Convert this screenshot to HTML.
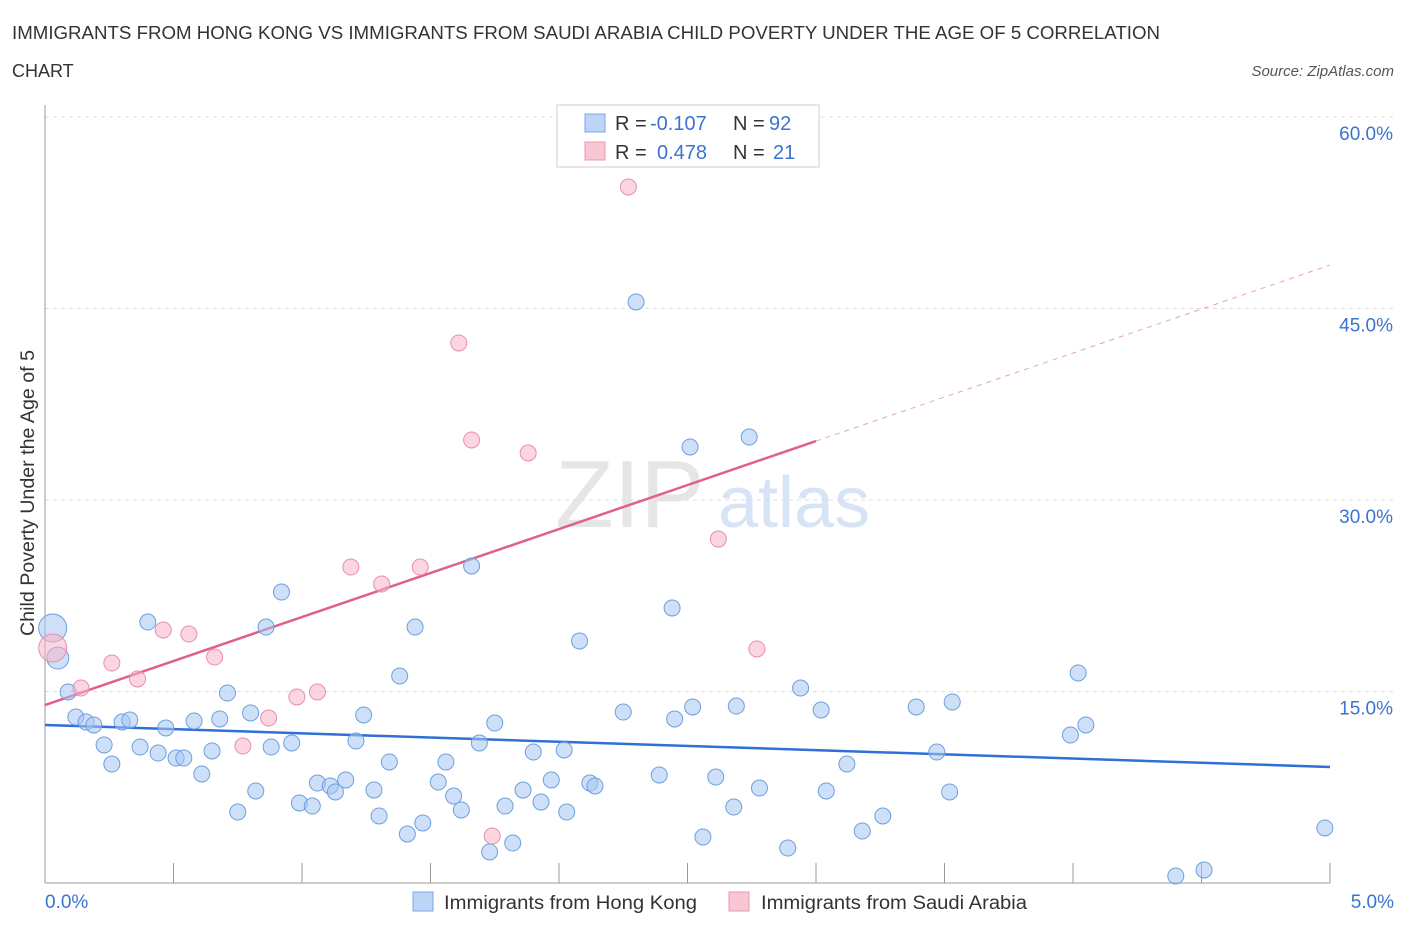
<!DOCTYPE html>
<html><head><meta charset="utf-8"><style>
body{margin:0;background:#fff;font-family:"Liberation Sans",sans-serif;}
svg text{font-family:"Liberation Sans",sans-serif;}
</style></head><body>
<svg id="chart" width="1406" height="930" xmlns="http://www.w3.org/2000/svg">
<text x="12" y="39" font-size="18" fill="#333" textLength="1148" lengthAdjust="spacingAndGlyphs">IMMIGRANTS FROM HONG KONG VS IMMIGRANTS FROM SAUDI ARABIA CHILD POVERTY UNDER THE AGE OF 5 CORRELATION</text>
<text x="12" y="77" font-size="18" fill="#333">CHART</text>
<text x="1394" y="76" font-size="15" fill="#555" text-anchor="end" font-style="italic">Source: ZipAtlas.com</text>
<text x="555" y="527" font-size="96" fill="#e6e6e6" font-family="Liberation Serif">ZIP</text>
<text x="718" y="527" font-size="72" fill="#d6e4f5">atlas</text>
<text transform="translate(34,493) rotate(-90)" font-size="19" fill="#333" text-anchor="middle" textLength="286" lengthAdjust="spacingAndGlyphs">Child Poverty Under the Age of 5</text>
<g id="grid"></g><g id="lines"></g><g id="pts"></g>
<g>
<rect x="557" y="105" width="262" height="62" fill="#fff" stroke="#ccc"/>
<rect x="585" y="114" width="20" height="18" fill="#bcd4f5" stroke="#7aa8e0"/>
<rect x="585" y="142" width="20" height="18" fill="#f9c6d3" stroke="#e89ab0"/>
<text x="615" y="130" font-size="20" fill="#333">R =</text>
<text x="650" y="130" font-size="20" fill="#3a73d1">-0.107</text>
<text x="733" y="130" font-size="20" fill="#333">N =</text>
<text x="769" y="130" font-size="20" fill="#3a73d1">92</text>
<text x="615" y="159" font-size="20" fill="#333">R =</text>
<text x="657" y="159" font-size="20" fill="#3a73d1">0.478</text>
<text x="733" y="159" font-size="20" fill="#333">N =</text>
<text x="773" y="159" font-size="20" fill="#3a73d1">21</text>
</g>
<g>
<rect x="413" y="892" width="20" height="19" fill="#bcd4f5" stroke="#7aa8e0"/>
<text x="444" y="909" font-size="19" fill="#333" textLength="253" lengthAdjust="spacingAndGlyphs">Immigrants from Hong Kong</text>
<rect x="729" y="892" width="20" height="19" fill="#f9c6d3" stroke="#e89ab0"/>
<text x="761" y="909" font-size="19" fill="#333" textLength="266" lengthAdjust="spacingAndGlyphs">Immigrants from Saudi Arabia</text>
</g>
</svg>
<script>
const blueX=[0.03,0.05,0.09,0.12,0.16,0.19,0.23,0.26,0.30,0.33,0.37,0.40,0.44,0.47,0.51,0.54,0.58,0.61,0.65,0.68,0.71,0.75,0.80,0.82,0.86,0.88,0.92,0.96,0.99,1.04,1.06,1.11,1.13,1.17,1.21,1.24,1.28,1.30,1.34,1.38,1.41,1.44,1.47,1.53,1.56,1.59,1.62,1.66,1.69,1.73,1.75,1.79,1.82,1.86,1.90,1.93,1.97,2.02,2.03,2.08,2.12,2.14,2.25,2.30,2.39,2.44,2.45,2.51,2.52,2.56,2.61,2.68,2.69,2.74,2.78,2.89,2.94,3.02,3.04,3.12,3.18,3.26,3.39,3.47,3.52,3.53,3.99,4.02,4.05,4.40,4.51,4.98];
const blueY=[19.97,17.62,14.96,13.00,12.61,12.38,10.81,9.32,12.61,12.77,10.65,20.44,10.18,12.14,9.79,9.79,12.69,8.54,10.34,12.85,14.88,5.56,13.32,7.21,20.05,10.65,22.79,10.97,6.27,6.03,7.83,7.60,7.13,8.07,11.12,13.16,7.28,5.25,9.48,16.21,3.84,20.05,4.70,7.91,9.48,6.81,5.72,24.83,10.97,2.43,12.53,6.03,3.13,7.28,10.26,6.34,8.07,10.42,5.56,18.96,7.83,7.60,13.39,45.51,8.46,21.54,12.85,34.15,13.79,3.60,8.30,5.95,13.86,34.93,7.44,2.74,15.27,13.55,7.21,9.32,4.07,5.25,13.79,10.26,7.13,14.18,11.59,16.45,12.38,0.55,1.02,4.31];
const pinkX=[0.03,0.14,0.26,0.36,0.46,0.56,0.66,0.77,0.87,0.98,1.06,1.19,1.31,1.46,1.61,1.66,1.74,1.88,2.27,2.62,2.77];
const pinkY=[18.41,15.27,17.23,15.98,19.82,19.50,17.70,10.73,12.92,14.57,14.96,24.75,23.42,24.75,42.30,34.70,3.68,33.68,54.52,26.94,18.33];
const blueTrend=[12.38,9.09];
const pinkTrend=[13.94,48.4];
const yTicks=[15,30,45,60];
const xTickVals=[0,0.5,1,1.5,2,2.5,3,3.5,4,4.5,5];
const NS="http://www.w3.org/2000/svg";
const sx=v=>45+v*257, sy=v=>883-v*12.767;
function mk(t,a,p){const e=document.createElementNS(NS,t);for(const k in a)e.setAttribute(k,a[k]);p.appendChild(e);return e;}
const grid=document.getElementById('grid'),lines=document.getElementById('lines'),pts=document.getElementById('pts');
yTicks.forEach(v=>{
 const l=mk('line',{x1:45,x2:1394,y1:sy(v),y2:sy(v),stroke:'#ddd','stroke-dasharray':'4,4'},grid);
 
 
 const t=mk('text',{x:1393,y:sy(v)+23,'font-size':19,fill:'#3a73d1','text-anchor':'end'},grid);
 t.textContent=v.toFixed(1)+'%';
 
 
});
const ax=mk('line',{x1:45,x2:1330,y1:883,y2:883,stroke:'#999'},grid);


const ay=mk('line',{x1:45,x2:45,y1:105,y2:883,stroke:'#999'},grid);


xTickVals.forEach(v=>{const l=mk('line',{x1:sx(v),x2:sx(v),y1:863,y2:883,stroke:'#999'},grid);
 
 });
[[0,'start',45],[5,'end',1394]].forEach(([v,a,x])=>{const t=mk('text',{x:x,y:908,'font-size':19,fill:'#3a73d1','text-anchor':a},grid);t.textContent=v.toFixed(1)+'%';
 
 });
const pt=x=>pinkTrend[0]+(pinkTrend[1]-pinkTrend[0])*x/5, bt=x=>blueTrend[0]+(blueTrend[1]-blueTrend[0])*x/5;
let l1=mk('line',{x1:sx(0),y1:sy(bt(0)),x2:sx(5),y2:sy(bt(5)),stroke:'#2f6fd6','stroke-width':2.5},lines);


let l2=mk('line',{x1:sx(0),y1:sy(pt(0)),x2:sx(3),y2:sy(pt(3)),stroke:'#e0608a','stroke-width':2.5},lines);


let l3=mk('line',{x1:sx(3),y1:sy(pt(3)),x2:sx(5),y2:sy(pt(5)),stroke:'#e8a0b8','stroke-width':1,'stroke-dasharray':'5,5'},lines);


blueX.forEach((x,i)=>{const c=mk('circle',{cx:sx(x),cy:sy(blueY[i]),r:i==0?14:(i==1?11:8),fill:'rgba(165,198,240,0.55)',stroke:'#6d9fe0','stroke-width':1},pts);
 
 });
pinkX.forEach((x,i)=>{const c=mk('circle',{cx:sx(x),cy:sy(pinkY[i]),r:i==0?14:8,fill:'rgba(247,180,200,0.55)',stroke:'#e88fab','stroke-width':1},pts);
 
 });
</script>
</body></html>
